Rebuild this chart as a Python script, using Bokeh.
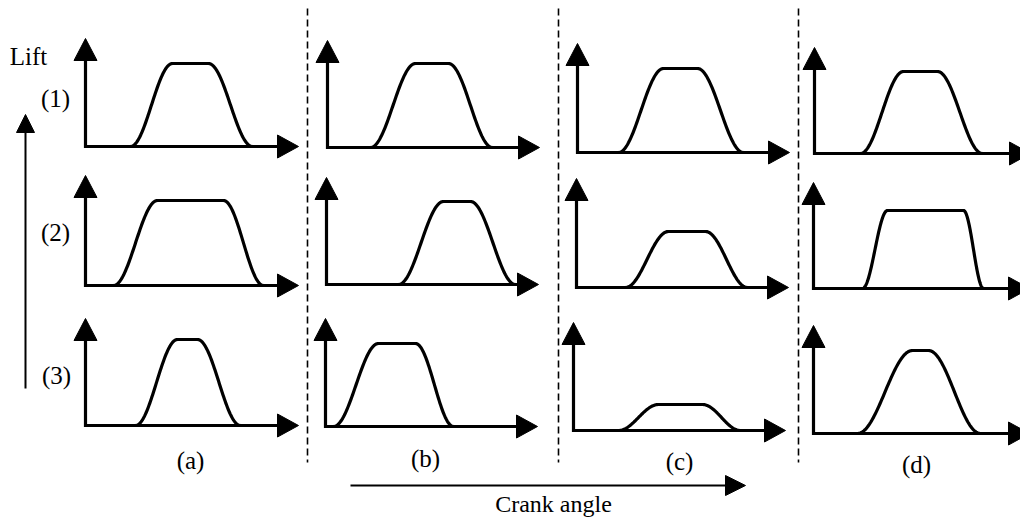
import numpy as np
from bokeh.plotting import figure
from bokeh.models import Range1d
from bokeh.core.properties import value
from bokeh.embed import file_html
from bokeh.resources import INLINE

# Valve lift profiles: rows = operating strategy (1)-(3), columns = cases (a)-(d).
# Angles are in crank-angle units measured from each panel's origin; lift in lift units.
column_labels = ["(a)", "(b)", "(c)", "(d)"]
row_labels = ["(1)", "(2)", "(3)"]

open_start = [[45, 43, 41, 46], [28, 72, 49, 49], [50, 8, 45, 44]]
full_open = [[87, 88, 86, 89], [72, 117, 92, 74], [92, 53, 85, 99]]
close_start = [[123, 121, 120, 123], [138, 144, 129, 150], [112, 90, 129, 115]]
close_end = [[167, 165, 166, 168], [178, 189, 171, 170], [155, 128, 167, 167]]
peak_lift = [[83, 84, 84, 82], [85, 83, 56, 78], [86, 83, 26, 83]]

y_title = "Lift"
x_title = "Crank angle"

# ---- layout (screen pixels, y downwards) ----
origin_x = [[85, 327, 577, 814], [85, 326, 576, 813], [85, 325, 573, 813]]
origin_y = [[146, 147, 152, 153], [285, 284, 287, 288], [425, 426, 430, 433]]
yaxis_tip = [[38, 40, 43, 47], [175, 177, 178, 182], [318, 318, 322, 325]]
xaxis_len = [213, 212, 212, 216]
divider_x = [307, 558, 798]
row_label_pos = [(55, 98), (55, 232), (56, 375)]
col_label_x = [190, 425, 679, 916]
col_label_y = [460, 458, 461, 464]

FONT = value("Liberation Serif")
INK = "#000000"

p = figure(width=1020, height=520, x_range=Range1d(0, 1020), y_range=Range1d(520, 0),
           output_backend="svg", toolbar_location=None, min_border=0)
p.axis.visible = False
p.grid.visible = False
p.outline_line_color = None
p.background_fill_color = "white"
p.border_fill_color = "white"


def head(tip_x, tip_y, direction, length, width):
    """Triangle arrowhead pointing 'up' or 'right' with its tip at (tip_x, tip_y)."""
    if direction == "up":
        return ([tip_x, tip_x - width / 2, tip_x + width / 2],
                [tip_y, tip_y + length, tip_y + length])
    return ([tip_x, tip_x - length, tip_x - length],
            [tip_y, tip_y - width / 2, tip_y + width / 2])


def profile(a0, a1, a2, a3, lift, n=60):
    """Smooth cam lift: cosine ramp up, dwell, cosine ramp down."""
    t = np.linspace(0, 1, n)
    up_x = a0 + (a1 - a0) * t
    up_y = lift * (1 - np.cos(np.pi * t)) / 2
    dn_x = a2 + (a3 - a2) * t
    dn_y = lift * (1 + np.cos(np.pi * t)) / 2
    xs = np.concatenate([up_x, dn_x])
    ys = np.concatenate([up_y, dn_y])
    return xs, ys


head_xs, head_ys = [], []
axis_xs, axis_ys = [], []
curve_xs, curve_ys = [], []

for r in range(3):
    for c in range(4):
        ox, oy = origin_x[r][c], origin_y[r][c]
        tip_y = yaxis_tip[r][c]
        tip_x = ox + xaxis_len[c]
        # axes (stop the shafts under the heads)
        axis_xs.append([ox, ox, tip_x - 12])
        axis_ys.append([tip_y + 12, oy, oy])
        hx, hy = head(ox, tip_y, "up", 22, 23)
        head_xs.append(hx); head_ys.append(hy)
        hx, hy = head(tip_x, oy, "right", 21, 23)
        head_xs.append(hx); head_ys.append(hy)
        # lift curve
        xs, ys = profile(open_start[r][c], full_open[r][c], close_start[r][c],
                         close_end[r][c], peak_lift[r][c])
        curve_xs.append(list(ox + xs))
        curve_ys.append(list(oy - ys))

p.multi_line(axis_xs, axis_ys, line_color=INK, line_width=3.2, line_join="miter")
p.multi_line(curve_xs, curve_ys, line_color=INK, line_width=3.2, line_join="round",
             line_cap="round")
p.patches(head_xs, head_ys, fill_color=INK, line_color=INK, line_width=1)

# dashed dividers between the cases
p.multi_line([[x, x] for x in divider_x], [[8, 462] for _ in divider_x],
             line_color=INK, line_width=1.6, line_dash="7 4")

# big lift arrow on the left
p.line([25, 25], [388, 128], line_color=INK, line_width=2)
hx, hy = head(25, 114, "up", 18, 18)
p.patch(hx, hy, fill_color=INK, line_color=INK)

# crank angle arrow at the bottom
p.line([350, 730], [485, 485], line_color=INK, line_width=2)
hx, hy = head(745, 485, "right", 20, 20)
p.patch(hx, hy, fill_color=INK, line_color=INK)

# texts
p.text(x=[28], y=[56], text=[y_title], text_font=FONT, text_font_size="25px",
       text_align="center", text_baseline="middle", text_color=INK)
p.text(x=[pos[0] for pos in row_label_pos], y=[pos[1] for pos in row_label_pos],
       text=row_labels, text_font=FONT, text_font_size="25px",
       text_align="center", text_baseline="middle", text_color=INK)
p.text(x=col_label_x, y=col_label_y, text=column_labels, text_font=FONT,
       text_font_size="25px", text_align="center", text_baseline="middle",
       text_color=INK)
p.text(x=[553], y=[503], text=[x_title], text_font=FONT, text_font_size="24px",
       text_align="center", text_baseline="middle", text_color=INK)

open("out.html", "w").write(file_html(p, INLINE))
